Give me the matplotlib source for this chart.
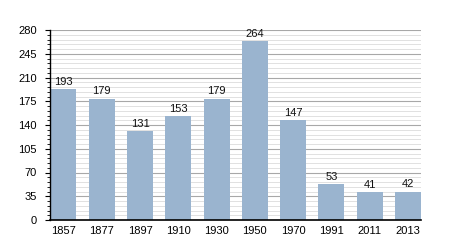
import matplotlib
matplotlib.use("Agg")
import matplotlib.pyplot as plt
from matplotlib.ticker import MultipleLocator

years = ["1857", "1877", "1897", "1910", "1930", "1950", "1970", "1991", "2011", "2013"]
population = [193, 179, 131, 153, 179, 264, 147, 53, 41, 42]
y_ticks = [0, 35, 70, 105, 140, 175, 210, 245, 280]

plt.rcParams['font.family'] = ['Liberation Sans', 'DejaVu Sans']

fig = plt.figure(figsize=(4.5, 2.5), dpi=100)
ax = fig.add_axes([50/450, 1-220/250, 371/450, 190/250])

x = list(range(len(years)))
ax.bar(x, population, width=0.68, color='#9ab4cf', zorder=2)
for xi, v in zip(x, population):
    ax.text(xi, v + 3, str(v), ha='center', va='bottom', fontsize=8, color='#111111', zorder=4)

ax.set_xlim(-0.35, 9.34)
ax.set_ylim(0, 280)
ax.set_yticks(y_ticks)
ax.yaxis.set_minor_locator(MultipleLocator(7))
ax.set_xticks(x)
ax.set_xticklabels(years)

ax.grid(axis='y', which='major', color='#a8a8a8', linewidth=0.8, zorder=1)
ax.grid(axis='y', which='minor', color='#dcdcdc', linewidth=0.6, zorder=1)
ax.grid(axis='x', visible=False)

for s in ['top', 'right']:
    ax.spines[s].set_visible(False)
ax.spines['left'].set_linewidth(1.0)
ax.spines['bottom'].set_linewidth(1.2)
ax.spines['left'].set_zorder(5)
ax.spines['bottom'].set_zorder(5)

ax.tick_params(axis='y', which='major', length=3.5, width=0.8, labelsize=8, pad=6)
ax.tick_params(axis='y', which='minor', length=2, width=0.6)
ax.tick_params(axis='x', length=0, labelsize=8, pad=4)

fig.savefig('out.png', dpi=100)
